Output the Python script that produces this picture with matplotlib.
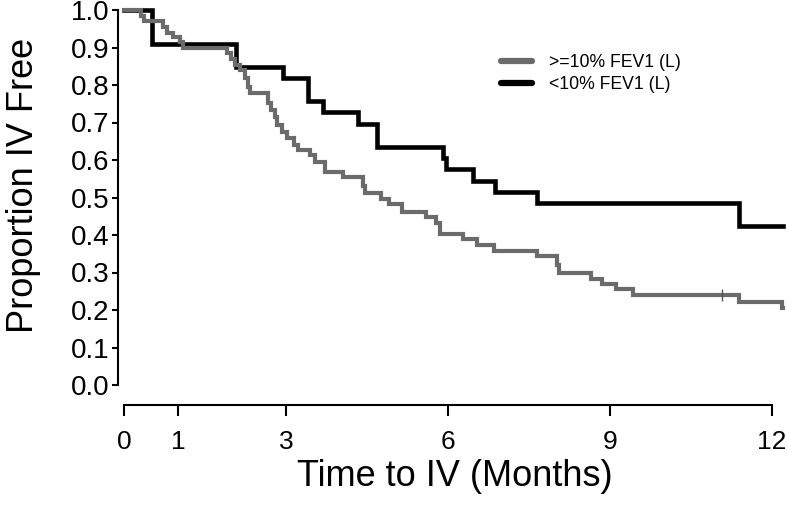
import matplotlib
matplotlib.use("Agg")
import matplotlib.pyplot as plt
from matplotlib.lines import Line2D

plt.rcParams['font.family'] = ['Liberation Sans', 'DejaVu Sans']

# ---- data ----
black_t = [0, 0.51, 2.07, 2.95, 3.41, 3.69, 4.34, 4.68, 5.90, 5.97, 6.46, 6.87, 7.64, 11.38, 12.2]
black_s = [1.0, 0.909, 0.848, 0.818, 0.758, 0.727, 0.697, 0.636, 0.606, 0.576, 0.545, 0.515, 0.485, 0.424, 0.424]

gray_t = [0, 0.31, 0.37, 0.73, 0.79, 0.91, 1.04, 1.10, 1.90, 1.99, 2.06, 2.15, 2.24, 2.30, 2.34,
          2.67, 2.73, 2.80, 2.83, 2.92, 3.01, 3.14, 3.23, 3.44, 3.54, 3.72, 4.06, 4.43, 4.46,
          4.76, 4.91, 5.14, 5.60, 5.78, 5.86, 6.28, 6.53, 6.86, 7.64, 8.02, 8.06, 8.64, 8.86,
          9.12, 9.43, 11.38, 12.18, 12.2]
gray_s = [1.0, 0.985, 0.972, 0.955, 0.938, 0.927, 0.914, 0.900, 0.885, 0.870, 0.853, 0.840, 0.818, 0.795, 0.778,
          0.751, 0.733, 0.716, 0.693, 0.674, 0.658, 0.640, 0.627, 0.613, 0.595, 0.569, 0.555, 0.530, 0.511,
          0.497, 0.482, 0.462, 0.449, 0.433, 0.404, 0.390, 0.374, 0.358, 0.344, 0.320, 0.298, 0.284, 0.270,
          0.255, 0.240, 0.222, 0.205, 0.205]

gray_censor_t = [11.07]
gray_censor_s = [0.240]

series_labels = [">=10% FEV1 (L)", "<10% FEV1 (L)"]
x_ticks = [0, 1, 3, 6, 9, 12]
y_ticks = [0.0, 0.1, 0.2, 0.3, 0.4, 0.5, 0.6, 0.7, 0.8, 0.9, 1.0]
x_label = "Time to IV (Months)"
y_label = "Proportion IV Free"

GRAY = "#6b6b6b"
W, H = 788, 519
fig = plt.figure(figsize=(W / 100, H / 100), dpi=100)

# axes placement in pixels
left_px, right_px, top_px, bottom_px = 118, 786, 5, 405
ax = fig.add_axes([left_px / W, 1 - bottom_px / H, (right_px - left_px) / W, (bottom_px - top_px) / H])

ax.plot(black_t, black_s, drawstyle='steps-post', color='black', lw=3.3, solid_joinstyle='miter', zorder=3)
ax.plot(gray_t, gray_s, drawstyle='steps-post', color=GRAY, lw=3.0, solid_joinstyle='miter', zorder=4)
ax.plot(gray_censor_t, gray_censor_s, ls='none', marker='|', ms=8, mew=1.0, color='#555555', zorder=5)

# x: 0 at px 124, 54 px per month ; y: 0 at px 385, 375 px per unit
ax.set_xlim((left_px - 124) / 54, (right_px - 124) / 54)
ax.set_ylim((385 - bottom_px) / 375, 1 + (10 - top_px) / 375)

for s in ['top', 'right']:
    ax.spines[s].set_visible(False)
ax.spines['left'].set_bounds(0, 1)
ax.spines['bottom'].set_bounds(0, 12)
ax.spines['left'].set_linewidth(1.5)
ax.spines['bottom'].set_linewidth(1.5)

ax.set_xticks(x_ticks)
ax.set_xticklabels([str(v) for v in x_ticks])
ax.set_yticks(y_ticks)
ax.set_yticklabels([f"{v:.1f}" for v in y_ticks])
ax.tick_params(axis='y', direction='out', length=4.5, width=1.5, pad=1.5, labelsize=20)
ax.tick_params(axis='x', direction='out', length=8, width=1.5, pad=10, labelsize=19)

fig.text(33 / W, 1 - 185 / H, y_label, rotation=90, rotation_mode='anchor',
         ha='center', va='baseline', fontsize=26)
fig.text(455 / W, 1 - 476 / H, x_label, ha='center', va='center', fontsize=26)

handles = [Line2D([], [], color=GRAY, lw=4.5, solid_capstyle='round'),
           Line2D([], [], color='black', lw=4.5, solid_capstyle='round')]
ax.legend(handles, series_labels, loc='upper left', bbox_to_anchor=(501 / W, 1 - 54 / H),
          bbox_transform=fig.transFigure, frameon=False, fontsize=12.7,
          handlelength=1.75, handletextpad=0.95, labelspacing=0.27, borderpad=0, borderaxespad=0)

fig.savefig("out.png", dpi=100)
